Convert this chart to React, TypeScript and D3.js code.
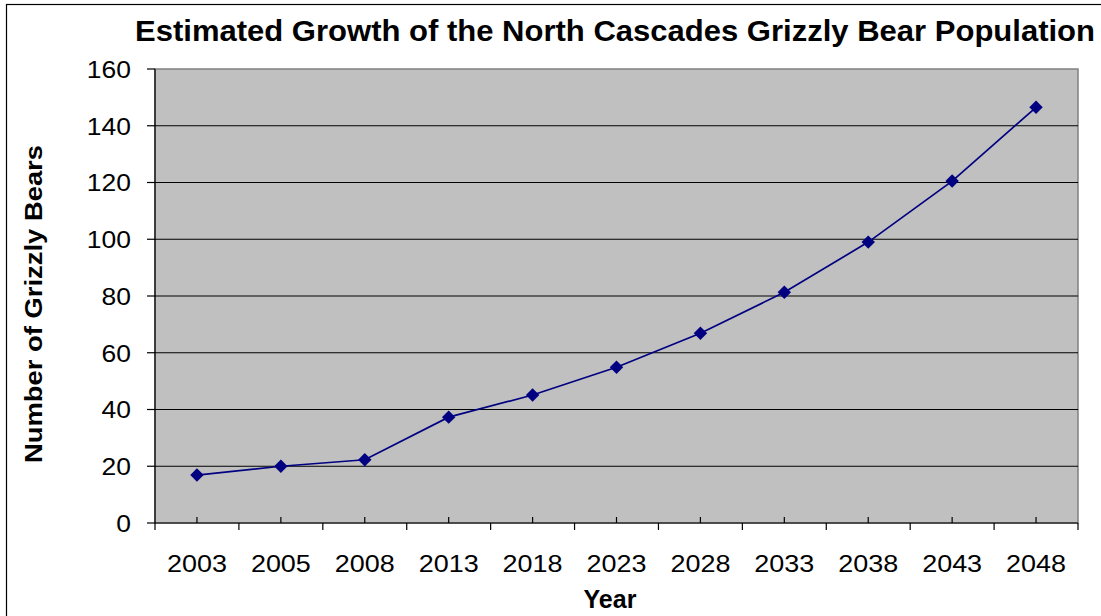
import React from 'react';
import * as d3 from 'd3';

const years = ['2003', '2005', '2008', '2013', '2018', '2023', '2028', '2033', '2038', '2043', '2048'];
const bears = [16.9, 20, 22.3, 37.3, 45.1, 54.9, 66.9, 81.3, 99, 120.5, 146.5];
const yTicks = [0, 20, 40, 60, 80, 100, 120, 140, 160];

const W = 1101;
const H = 616;
const left = 155, right = 1078, top = 69, bottom = 523;

export default function App() {
  const x = d3.scaleBand<string>().domain(years).range([left, right]);
  const y = d3.scaleLinear().domain([0, 160]).range([bottom, top]);
  const cx = (d: string) => (x(d) as number) + x.bandwidth() / 2;

  const line = d3.line<number>()
    .x((d, i) => cx(years[i]))
    .y(d => y(d));

  // square turned 45deg = the Excel diamond marker
  const diamond = d3.symbol().type(d3.symbolSquare).size(90)() as string;
  const font = 'Liberation Sans, Arial, sans-serif';

  return (
    <svg width={W} height={H} style={{ position: 'absolute', left: 0, top: 0, background: '#fff' }}
      fontFamily={font}>
      <rect x={6.5} y={4.5} width={W} height={H} fill="#fff" stroke="#000" strokeWidth={1.2} />
      <text x={615} y={41} textAnchor="middle" fontSize={29} fontWeight="bold"
        textLength={960} lengthAdjust="spacingAndGlyphs">
        Estimated Growth of the North Cascades Grizzly Bear Population
      </text>

      <rect x={left} y={top} width={right - left} height={bottom - top} fill="#c0c0c0" stroke="#808080" strokeWidth={1.5} />
      {yTicks.filter(t => t > 0 && t < 160).map(t => (
        <line key={t} x1={left} x2={right} y1={y(t)} y2={y(t)} stroke="#000" strokeWidth={1} />
      ))}

      {/* y axis */}
      <line x1={left} x2={left} y1={top} y2={bottom} stroke="#000" strokeWidth={1.2} />
      {yTicks.map(t => (
        <g key={t}>
          <line x1={147} x2={left} y1={y(t)} y2={y(t)} stroke="#000" strokeWidth={1.2} />
          <g transform={`translate(131,${y(t)}) scale(1.08,1)`}>
            <text dy="0.36em" textAnchor="end" fontSize={24.5}>{t}</text>
          </g>
        </g>
      ))}

      {/* x axis */}
      <line x1={left} x2={right} y1={bottom} y2={bottom} stroke="#000" strokeWidth={1.2} />
      {years.map(d => (
        <g key={d}>
          <line x1={x(d)} x2={x(d)} y1={bottom} y2={bottom + 7} stroke="#000" strokeWidth={1.2} />
          <line x1={cx(d)} x2={cx(d)} y1={bottom - 6} y2={bottom} stroke="#000" strokeWidth={1.2} />
          <g transform={`translate(${cx(d)},572) scale(1.1,1)`}>
            <text textAnchor="middle" fontSize={24.5}>{d}</text>
          </g>
        </g>
      ))}
      <line x1={right} x2={right} y1={bottom} y2={bottom + 7} stroke="#000" strokeWidth={1.2} />

      <path d={line(bears) as string} fill="none" stroke="#000080" strokeWidth={1.7} />
      {bears.map((v, i) => (
        <path key={i} d={diamond} transform={`translate(${cx(years[i])},${y(v)}) rotate(45)`} fill="#000080" />
      ))}

      <text x={610} y={608} textAnchor="middle" fontSize={25} fontWeight="bold">Year</text>
      <text transform={`translate(42,304) rotate(-90)`} textAnchor="middle"
        fontSize={24.5} fontWeight="bold" textLength={318} lengthAdjust="spacingAndGlyphs">Number of Grizzly Bears</text>
    </svg>
  );
}
